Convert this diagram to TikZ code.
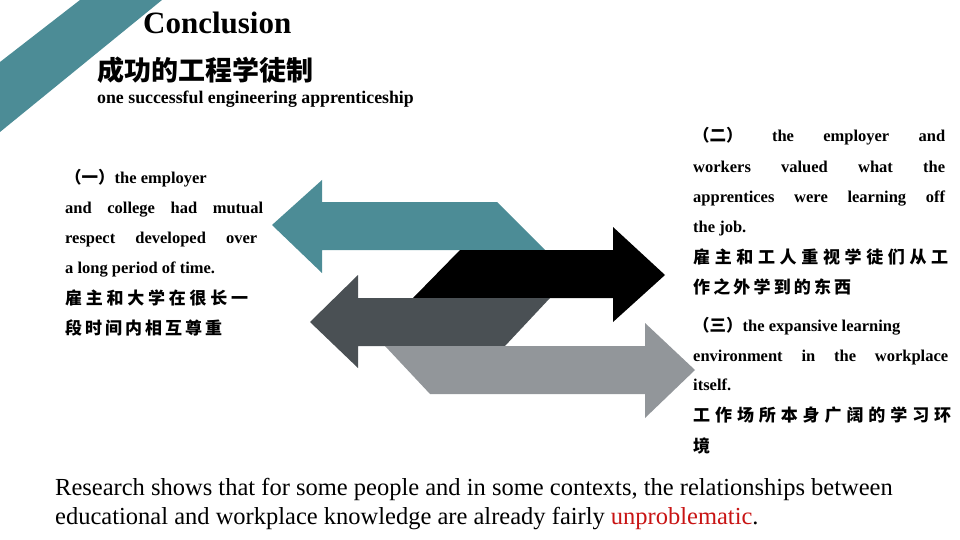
\documentclass[tikz,border=0pt]{standalone}
\usepackage{fontspec}
\setmainfont{Liberation Serif}
\newfontfamily\cjk{Noto Sans CJK SC}
\definecolor{teal1}{RGB}{76,140,150}
\definecolor{dgray}{RGB}{74,80,84}
\definecolor{lgray}{RGB}{146,150,154}
\definecolor{myred}{RGB}{200,20,20}
\newcommand{\spr}[2]{\makebox[#1pt][s]{#2}}
\begin{document}
\begin{tikzpicture}[x=1pt,y=-1pt,
  tl/.style={anchor=base west,inner sep=0pt,font=\bfseries\fontsize{16.5}{20}\selectfont},
  cl/.style={anchor=base west,inner sep=0pt,font=\cjk\bfseries\fontsize{17}{20}\selectfont}]
\useasboundingbox (0,0) rectangle (960,540);
\fill[teal1] (80,0) -- (162,0) -- (0,132) -- (0,62) -- cycle;
\node[anchor=base west,inner sep=0pt,font=\bfseries\fontsize{31}{34}\selectfont] (t) at (143,34) {Conclusion};
\node[anchor=base west,inner sep=0pt,font=\cjk\bfseries\fontsize{27}{30}\selectfont] (c) at (97,81) {成功的工程学徒制};
\node[anchor=base west,inner sep=0pt,font=\bfseries\fontsize{17.8}{20}\selectfont] (s) at (97,104) {one successful engineering apprenticeship};
% arrows
\fill[teal1] (272,225) -- (322,180) -- (322,202) -- (497,202) -- (545,250) -- (322,250) -- (322,273) -- cycle;
\fill[black] (460,250) -- (613,250) -- (613,227) -- (665,275) -- (613,322) -- (613,298) -- (413,298) -- cycle;
\fill[dgray] (310,322) -- (358,275) -- (358,298) -- (550,298) -- (505,346) -- (358,346) -- (358,368) -- cycle;
\fill[lgray] (385,346) -- (645,346) -- (645,323) -- (695,370) -- (645,418) -- (645,394) -- (430,394) -- cycle;
% left text
\node[tl] (l1) at (65,183) {{\cjk （一）}the employer};
\node[tl] (l2) at (65,213) {\spr{198}{and college had mutual}};
\node[tl] (l3) at (65,243) {\spr{192}{respect developed over}};
\node[tl] (l4) at (65,273) {a long period of time.};
\node[cl] (l5) at (65,304) {\spr{183}{雇\hfil 主\hfil 和\hfil 大\hfil 学\hfil 在\hfil 很\hfil 长\hfil 一}};
\node[cl] (l6) at (65,334) {\spr{157}{段\hfil 时\hfil 间\hfil 内\hfil 相\hfil 互\hfil 尊\hfil 重}};
% right text
\node[tl] (r1) at (693,142) {\spr{252}{{\cjk （二）}\hfil the\hfil employer\hfil and}};
\node[tl] (r2) at (693,172) {\spr{252}{workers\hfil valued\hfil what\hfil the}};
\node[tl] (r3) at (693,202) {\spr{252}{apprentices were learning off}};
\node[tl] (r4) at (693,232) {the job.};
\node[cl] (r5) at (693,263) {\spr{255}{雇\hfil 主\hfil 和\hfil 工\hfil 人\hfil 重\hfil 视\hfil 学\hfil 徒\hfil 们\hfil 从\hfil 工}};
\node[cl] (r6) at (693,293) {\spr{158}{作\hfil 之\hfil 外\hfil 学\hfil 到\hfil 的\hfil 东\hfil 西}};
\node[tl] (r7) at (693,331) {{\cjk （三）}the expansive learning};
\node[tl] (r8) at (693,361) {\spr{255}{environment in the workplace}};
\node[tl] (r9) at (693,390) {itself.};
\node[cl] (r10) at (693,421) {\spr{258}{工\hfil 作\hfil 场\hfil 所\hfil 本\hfil 身\hfil 广\hfil 阔\hfil 的\hfil 学\hfil 习\hfil 环}};
\node[cl] (r11) at (693,452) {境};
% bottom
\node[anchor=base west,inner sep=0pt,font=\fontsize{24.5}{28}\selectfont] (b1) at (55,495) {Research shows that for some people and in some contexts, the relationships between};
\node[anchor=base west,inner sep=0pt,font=\fontsize{24.5}{28}\selectfont] (b2) at (55,524) {educational and workplace knowledge are already fairly \textcolor{myred}{unproblematic}.};
\end{tikzpicture}
\end{document}
